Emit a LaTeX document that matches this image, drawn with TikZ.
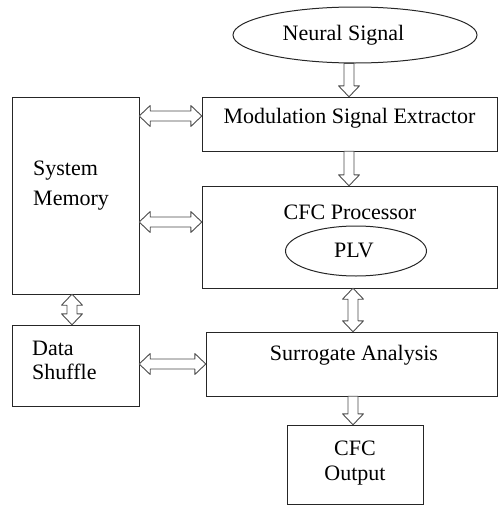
\documentclass[tikz,border=0pt]{standalone}
\usepackage{fontspec}
\setmainfont{Liberation Serif}
\usetikzlibrary{shapes.geometric,calc}
\begin{document}
\begin{tikzpicture}[x=1pt,y=-1pt,
  box/.style={draw=black!85,line width=1pt},
  oval/.style={draw=black!85,line width=1pt,ellipse,inner sep=0pt},
  lbl/.style={anchor=base,inner sep=0pt,font=\fontsize{22}{26}\selectfont},
  lbll/.style={anchor=base west,inner sep=0pt,font=\fontsize{22}{26}\selectfont},
  blk/.style={draw=black!70,fill=white,line width=0.9pt,line join=round},
  one/.style={blk,to path={
    let \p1=(\tikztostart), \p2=(\tikztotarget),
        \n1={atan2(\y2-\y1,\x2-\x1)}, \n2={veclen(\x2-\x1,\y2-\y1)} in
    [shift={(\p1)},rotate=\n1]
    (0pt,-5pt) -- (\n2-11pt,-5pt) -- (\n2-11pt,-10.5pt) -- (\n2,0pt)
    -- (\n2-11pt,10.5pt) -- (\n2-11pt,5pt) -- (0pt,5pt) -- cycle}},
  two/.style={blk,to path={
    let \p1=(\tikztostart), \p2=(\tikztotarget),
        \n1={atan2(\y2-\y1,\x2-\x1)}, \n2={veclen(\x2-\x1,\y2-\y1)} in
    [shift={(\p1)},rotate=\n1]
    (0pt,0pt) -- (11pt,-10.5pt) -- (11pt,-5pt) -- (\n2-11pt,-5pt)
    -- (\n2-11pt,-10.5pt) -- (\n2,0pt) -- (\n2-11pt,10.5pt) -- (\n2-11pt,5pt)
    -- (11pt,5pt) -- (11pt,10.5pt) -- cycle}}]
\useasboundingbox (0,0) rectangle (498,506);
% boxes
\node[oval,minimum width=244pt,minimum height=56pt] (ns) at (355,35) {};
\node[lbl] (nst) at (343.5,40) {Neural Signal};
\draw[box] (202,97) rectangle (497,151);
\node[inner sep=0pt,minimum width=295pt,minimum height=54pt] (mse) at (349.5,124) {};
\node[lbl] (mset) at (349.5,123) {Modulation Signal Extractor};
\draw[box] (12,97) rectangle (139,294);
\node[inner sep=0pt,minimum width=127pt,minimum height=197pt] (mem) at (75.5,195.5) {};
\node[lbll] (memt1) at (33,175) {System};
\node[lbll] (memt2) at (33,205) {Memory};
\draw[box] (202,186) rectangle (497,288);
\node[inner sep=0pt,minimum width=295pt,minimum height=102pt] (cfc) at (349.5,237) {};
\node[lbl] (cfct) at (350,219) {CFC Processor};
\node[oval,minimum width=141pt,minimum height=50pt] (plv) at (356,251) {};
\node[lbl] (plvt) at (354,257) {PLV};
\draw[box] (12,325) rectangle (139,406);
\node[inner sep=0pt,minimum width=127pt,minimum height=81pt] (ds) at (75.5,365.5) {};
\node[lbll] (dst1) at (32,355) {Data};
\node[lbll] (dst2) at (32,379) {Shuffle};
\draw[box] (206,332) rectangle (497,396);
\node[inner sep=0pt,minimum width=291pt,minimum height=64pt] (sa) at (351.5,364) {};
\node[lbl] (sat) at (354,360) {Surrogate Analysis};
\draw[box] (287,425) rectangle (423,504);
\node[inner sep=0pt,minimum width=136pt,minimum height=79pt] (out) at (355,464.5) {};
\node[lbl] (outt1) at (355,455) {CFC};
\node[lbl] (outt2) at (355,480) {Output};
% axis coordinates
\coordinate (xa) at (349,0);
\coordinate (xb) at (353,0);
\coordinate (xc) at (72,0);
\coordinate (ya) at (0,116);
\coordinate (yb) at (0,222);
\coordinate (yc) at (0,364);
% arrows
\draw[one] (ns.south -| xa) to (mse.north -| xa);
\draw[two] (mem.east |- ya) to (mse.west |- ya);
\draw[one] (mse.south -| xa) to (cfc.north -| xa);
\draw[two] (mem.east |- yb) to (cfc.west |- yb);
\draw[two] (cfc.south -| xb) to (sa.north -| xb);
\draw[two] (mem.south -| xc) to (ds.north -| xc);
\draw[two] (ds.east |- yc) to (sa.west |- yc);
\draw[one] (sa.south -| xb) to (out.north -| xb);
\end{tikzpicture}
\end{document}
